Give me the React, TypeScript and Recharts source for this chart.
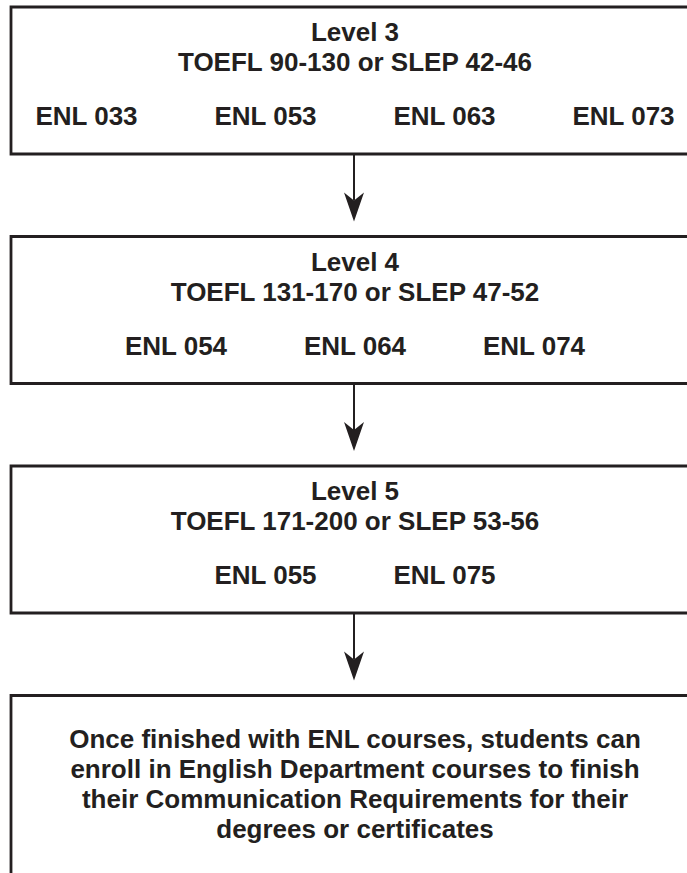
import React from 'react';
import { ComposedChart, XAxis, YAxis, Scatter, ReferenceArea, ReferenceLine } from 'recharts';

// flowchart content
const levels = ['Level 3', 'Level 4', 'Level 5'];
const scoreRanges = [
  'TOEFL 90-130 or SLEP 42-46',
  'TOEFL 131-170 or SLEP 47-52',
  'TOEFL 171-200 or SLEP 53-56',
];
const courses = [
  ['ENL 033', 'ENL 053', 'ENL 063', 'ENL 073'],
  ['ENL 054', 'ENL 064', 'ENL 074'],
  ['ENL 055', 'ENL 075'],
];
const finalLines = [
  'Once finished with ENL courses, students can',
  'enroll in English Department courses to finish',
  'their Communication Requirements for their',
  'degrees or certificates',
];

// layout: x in course slots, y in flow steps
const W = 687;
const H = 873;
const STEP_PX = 229.5;
const TOP_PX = 7;
const SLOT_PX = 179;
const CENTER_PX = 355;
const X_DOMAIN = [-CENTER_PX / SLOT_PX, (W - CENTER_PX) / SLOT_PX];
const Y_DOMAIN = [-TOP_PX / STEP_PX, (H - TOP_PX) / STEP_PX];
const BOX_H = 147 / STEP_PX;
const BOX_LEFT = (11 - CENTER_PX) / SLOT_PX;
const BOX_RIGHT = 2.3;
const ARROW_X = (354 - CENTER_PX) / SLOT_PX;
const ARROW_GAP = 15 / STEP_PX;
const TITLE_Y = 34 / STEP_PX;
const SCORE_Y = 64 / STEP_PX;
const COURSE_Y = 118 / STEP_PX;
const FINAL_Y = 52 / STEP_PX;
const LINE_STEP = 30 / STEP_PX;

const INK = '#231f20';
const FONT = '"Liberation Sans", Arial, sans-serif';

const boxes = [0, 1, 2, 3];

const titlePoints = levels.map((t, i) => ({ x: 0, y: i + TITLE_Y, label: t }));
const scorePoints = scoreRanges.map((t, i) => ({ x: 0, y: i + SCORE_Y, label: t }));
const coursePoints = courses.flatMap((row, i) =>
  row.map((c, j) => ({ x: j - (row.length - 1) / 2, y: i + COURSE_Y, label: c }))
);
const finalPoints = finalLines.map((t, k) => ({ x: 0, y: levels.length + FINAL_Y + k * LINE_STEP, label: t }));
const arrowTips = levels.map((_, i) => ({ x: ARROW_X, y: i + 1 - ARROW_GAP }));

const TextShape = (props: any) => (
  <text
    x={props.cx}
    y={props.cy}
    textAnchor="middle"
    fontFamily={FONT}
    fontWeight="bold"
    fontSize={26}
    fill={INK}
  >
    {props.payload.label}
  </text>
);

const ArrowHead = (props: any) => {
  const { cx, cy } = props;
  return (
    <path
      d={`M${cx},${cy} L${cx - 10},${cy - 29} L${cx},${cy - 21} L${cx + 10},${cy - 29} Z`}
      fill={INK}
    />
  );
};

export default function App() {
  return (
    <div style={{ position: 'absolute', left: 0, top: 0, background: '#fff' }}>
      <ComposedChart width={W} height={H} margin={{ top: 0, right: 0, bottom: 0, left: 0 }}>
        <XAxis hide type="number" dataKey="x" domain={X_DOMAIN} allowDataOverflow />
        <YAxis hide type="number" dataKey="y" domain={Y_DOMAIN} reversed allowDataOverflow />
        {boxes.map((i) => (
          <ReferenceArea
            key={'box' + i}
            x1={BOX_LEFT}
            x2={BOX_RIGHT}
            y1={i}
            y2={i === boxes.length - 1 ? i + 2 : i + BOX_H}
            fill="#fff"
            fillOpacity={1}
            stroke={INK}
            strokeWidth={2.8}
            ifOverflow="hidden"
          />
        ))}
        {levels.map((_, i) => (
          <ReferenceLine
            key={'arrow' + i}
            segment={[
              { x: ARROW_X, y: i + BOX_H },
              { x: ARROW_X, y: i + 1 - ARROW_GAP - 21 / STEP_PX },
            ]}
            stroke={INK}
            strokeWidth={2}
          />
        ))}
        <Scatter data={arrowTips} shape={ArrowHead} isAnimationActive={false} />
        <Scatter data={titlePoints} shape={TextShape} isAnimationActive={false} />
        <Scatter data={scorePoints} shape={TextShape} isAnimationActive={false} />
        <Scatter data={coursePoints} shape={TextShape} isAnimationActive={false} />
        <Scatter data={finalPoints} shape={TextShape} isAnimationActive={false} />
      </ComposedChart>
    </div>
  );
}
